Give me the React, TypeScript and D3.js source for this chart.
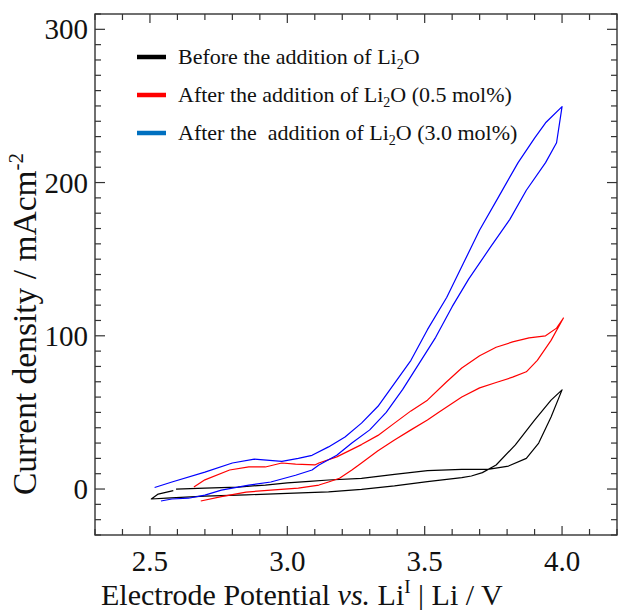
import React from "react";
import * as d3 from "d3";

// ---- Data ----
const blackV = [2.595, 2.70, 2.82, 2.92, 3.00, 3.08, 3.15, 3.27, 3.39, 3.51, 3.635, 3.73, 3.805, 3.87, 3.915, 3.96, 4.00, 3.96, 3.90, 3.83, 3.76, 3.71, 3.67, 3.635, 3.51, 3.39, 3.27, 3.15, 3.00, 2.85, 2.70, 2.56, 2.505, 2.53, 2.585];
const blackI = [0, 0.6, 1.3, 2.6, 4.0, 5.0, 5.9, 7.0, 9.6, 12.0, 12.8, 12.8, 15.0, 20.0, 30.0, 47.0, 64.7, 58.0, 45.0, 28.8, 15.7, 10.7, 8.5, 7.4, 4.8, 2.0, -0.2, -1.8, -2.9, -3.8, -4.6, -5.9, -6.5, -3.3, -1.0];

const redV = [2.685, 2.76, 2.85, 2.94, 3.04, 3.115, 3.15, 3.19, 3.235, 3.27, 3.33, 3.39, 3.45, 3.51, 3.55, 3.635, 3.70, 3.76, 3.82, 3.87, 3.91, 3.96, 4.005, 3.98, 3.94, 3.88, 3.82, 3.76, 3.70, 3.635, 3.58, 3.51, 3.45, 3.39, 3.33, 3.27, 3.18, 3.115, 3.10, 3.03, 2.98, 2.92, 2.86, 2.79, 2.70, 2.66];
const redI = [-7.8, -5.0, -2.0, -0.7, 0.6, 2.6, 4.6, 7.0, 12.4, 17.0, 25.0, 32.0, 38.6, 45.0, 50.0, 60.0, 66.0, 69.5, 73.0, 76.5, 84.0, 97.0, 111.6, 105.0, 100.0, 98.6, 96.0, 92.5, 87.0, 79.0, 70.0, 58.0, 51.0, 43.0, 35.0, 29.0, 21.0, 17.0, 15.7, 16.3, 17.0, 14.4, 14.4, 12.4, 6.0, 1.3];

const blueV = [2.54, 2.58, 2.64, 2.70, 2.76, 2.86, 2.94, 3.03, 3.09, 3.115, 3.18, 3.235, 3.30, 3.36, 3.42, 3.48, 3.54, 3.60, 3.66, 3.74, 3.81, 3.87, 3.94, 3.98, 4.00, 3.94, 3.90, 3.84, 3.77, 3.70, 3.64, 3.58, 3.51, 3.45, 3.39, 3.33, 3.27, 3.21, 3.15, 3.09, 3.04, 2.98, 2.88, 2.80, 2.70, 2.58, 2.517];
const blueI = [-7.8, -6.5, -6.0, -4.0, -0.7, 2.6, 4.6, 9.0, 12.4, 15.7, 22.0, 30.0, 38.6, 50.0, 65.0, 82.0, 99.0, 119.0, 137.0, 158.0, 176.0, 195.0, 213.0, 226.0, 249.6, 239.0, 229.0, 213.0, 191.0, 169.0, 147.0, 125.0, 104.0, 84.0, 69.0, 54.0, 43.0, 34.0, 27.5, 22.0, 20.0, 18.0, 19.5, 17.0, 11.0, 4.6, 1.0];

const xTickLabels = [2.5, 3.0, 3.5, 4.0];
const yTickLabels = [0, 100, 200, 300];

const legendPrefix = ["Before the addition of Li", "After the addition of Li", "After the  addition of Li"];
const legendSuffix = ["O", "O (0.5 mol%)", "O (3.0 mol%)"];
const lineColors = ["#000000", "#ff0000", "#0000ff"];
const legendColors = ["#000000", "#ff0000", "#0070c0"];

const FONT = "'Liberation Serif', 'Times New Roman', serif";

export default function App() {
  const W = 619, H = 610;
  const left = 95, right = 617, top = 14, bottom = 535;
  const x = d3.scaleLinear().domain([2.3, 4.2]).range([left, right]);
  const y = d3.scaleLinear().domain([-30, 310]).range([bottom, top]);

  const series = [
    { v: blackV, i: blackI },
    { v: redV, i: redI },
    { v: blueV, i: blueI },
  ];
  const line = d3.line<[number, number]>().x(d => x(d[0])).y(d => y(d[1]));

  const xTicks = d3.range(23, 43).map(k => k / 10).filter(v => v >= 2.3 && v <= 4.2);
  const yTicks = d3.range(-30, 311, 10);
  const isMajorX = (v: number) => Math.abs(v * 2 - Math.round(v * 2)) < 1e-6;
  const isMajorY = (v: number) => v % 100 === 0;
  const axisColor = "#333";

  return (
    <svg width={W} height={H} style={{ position: "absolute", left: 0, top: 0, background: "#fff" }} fontFamily={FONT}>
      <rect x={0} y={0} width={W} height={H} fill="#fff" />
      {series.map((s, k) => (
        <path key={k} d={line(s.v.map((v, j) => [v, s.i[j]] as [number, number])) || ""} fill="none" stroke={lineColors[k]} strokeWidth={1.2} strokeLinejoin="round" />
      ))}
      <rect x={left} y={top} width={right - left} height={bottom - top} fill="none" stroke={axisColor} strokeWidth={1.4} />
      {xTicks.map((v, k) => {
        const len = isMajorX(v) ? 9 : 6;
        return (
          <g key={"xt" + k}>
            <line x1={x(v)} x2={x(v)} y1={bottom} y2={bottom - len} stroke={axisColor} strokeWidth={1.2} />
            <line x1={x(v)} x2={x(v)} y1={top} y2={top + len} stroke={axisColor} strokeWidth={1.2} />
          </g>
        );
      })}
      {yTicks.map((v, k) => {
        const len = isMajorY(v) ? 10 : 6;
        return (
          <g key={"yt" + k}>
            <line x1={left} x2={left + len} y1={y(v)} y2={y(v)} stroke={axisColor} strokeWidth={1.2} />
            <line x1={right} x2={right - len} y1={y(v)} y2={y(v)} stroke={axisColor} strokeWidth={1.2} />
          </g>
        );
      })}
      {xTickLabels.map((v, k) => (
        <text key={"xl" + k} x={x(v)} y={571} textAnchor="middle" fontSize={29} fill="#111">{d3.format(".1f")(v)}</text>
      ))}
      {yTickLabels.map((v, k) => (
        <text key={"yl" + k} x={88} y={y(v) + 10} textAnchor="end" fontSize={29} fill="#111">{v}</text>
      ))}
      <text x={101} y={605} textAnchor="start" fontSize={30} fill="#111">
        Electrode Potential <tspan fontStyle="italic">vs.</tspan> Li<tspan fontSize={19} dy={-12}>I</tspan><tspan dy={12}> | Li / V</tspan>
      </text>
      <text transform={`translate(36,324) rotate(-90)`} textAnchor="middle" fontSize={33.5} fill="#111">
        Current density / mAcm<tspan fontSize={21} dy={-13}>-2</tspan>
      </text>
      {legendPrefix.map((p, k) => {
        const ly = 57 + k * 38;
        return (
          <g key={"lg" + k}>
            <line x1={137} x2={166} y1={ly} y2={ly} stroke={legendColors[k]} strokeWidth={4.5} />
            <text x={178} y={ly + 7} fontSize={22} fill="#111" style={{ whiteSpace: "pre" }}>
              {p}<tspan fontSize={14} dy={5}>2</tspan><tspan dy={-5}>{legendSuffix[k]}</tspan>
            </text>
          </g>
        );
      })}
    </svg>
  );
}
